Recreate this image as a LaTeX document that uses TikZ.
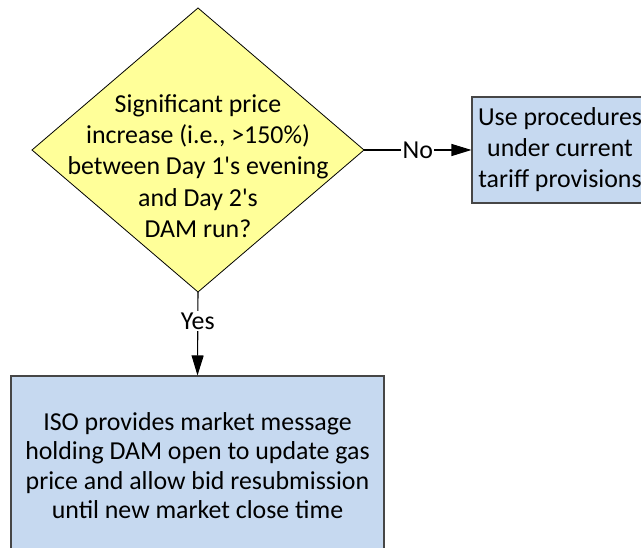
\documentclass[tikz,border=0pt]{standalone}
\usepackage{fontspec}
\setmainfont{Carlito}
\usetikzlibrary{arrows.meta}
\definecolor{decfill}{RGB}{255,255,153}
\definecolor{boxfill}{RGB}{198,217,240}
\definecolor{boxline}{RGB}{70,70,70}
\newcommand{\apos}{\textquotesingle}
\tikzset{
  px/.style={x=0.75pt,y=-0.75pt},
  procbox/.style={draw=boxline,line width=0.8pt,fill=boxfill,rectangle,inner sep=0pt,align=center,font=\fontsize{19.4}{23.2}\selectfont},
  flowarrow/.style={draw=black,line width=0.8pt,-{Triangle[length=15pt,width=9pt]}},
  lbl/.style={fill=white,inner sep=1pt,font=\fontsize{19.4}{21}\selectfont}
}
\begin{document}
\begin{tikzpicture}[px]
\useasboundingbox (0,0) rectangle (641,548);
% decision diamond
\coordinate (dtop) at (198,8);
\coordinate (dleft) at (32,150);
\coordinate (dright) at (364,150);
\coordinate (dbot) at (198,292);
\draw[fill=decfill,draw=black,line width=0.6pt] (dtop) -- (dright) -- (dbot) -- (dleft) -- cycle;
\node[align=center,inner sep=0pt,font=\fontsize{19.4}{23.4}\selectfont] (qtext) at (198,166)
  {Significant price\\increase (i.e., >150\%)\\between Day 1\apos s evening\\and Day 2\apos s\\DAM run?};
% process boxes
\node[procbox,minimum width=132pt,minimum height=79.5pt] (nobox) at (560,150)
  {Use procedures\\under current\\tariff provisions};
\node[procbox,minimum width=279.75pt,minimum height=134.25pt,font=\fontsize{19.4}{22}\selectfont] (yesbox) at (197.5,465.5)
  {ISO provides market message\\holding DAM open to update gas\\price and allow bid resubmission\\until new market close time};
% connectors
\draw[flowarrow] (dright) -- node[lbl,pos=0.5]{No} (nobox.west);
\draw[flowarrow] (dbot) -- node[lbl,pos=0.35]{Yes} (yesbox.north);
\end{tikzpicture}
\end{document}
